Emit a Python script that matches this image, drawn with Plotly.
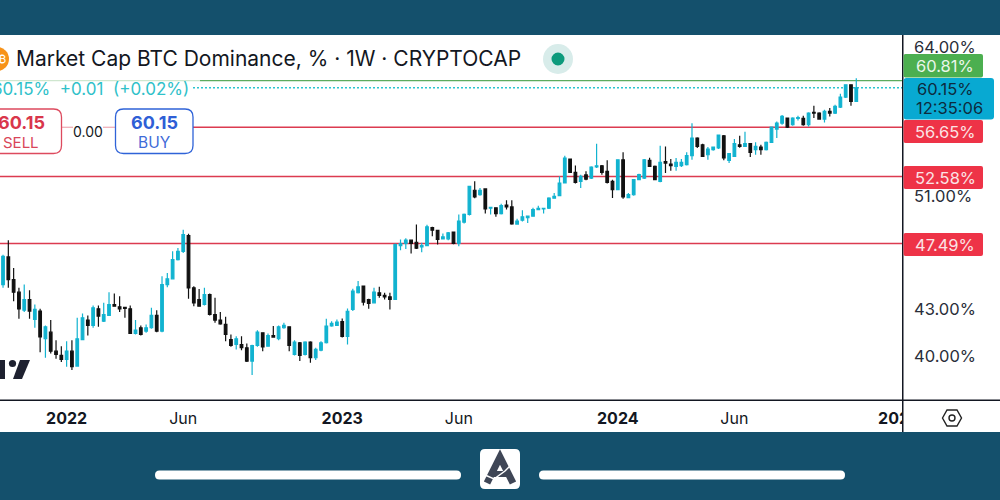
import math

import pandas as pd
import plotly.graph_objects as go

# weekly candles, first one is the week of 4 Oct 2021
opens = [43.62, 44.62, 46.53, 44.96, 44.11, 42.92, 43.62, 42.32, 42.86, 41.10, 41.51, 40.33, 40.07, 39.83, 40.33, 39.43, 41.05,
         42.28, 41.94, 43.01, 42.21, 42.58, 43.29, 43.14, 43.10, 43.01, 41.43, 41.79, 41.58, 41.79, 42.58, 41.58, 44.62, 45.01,
         46.34, 46.93, 48.06, 44.40, 43.62, 43.29, 43.95, 42.64, 42.28, 42.00, 41.05, 40.74, 40.74, 40.54, 39.73, 40.68, 41.47,
         40.64, 41.30, 41.10, 41.79, 41.85, 40.13, 40.85, 40.13, 40.89, 39.93, 40.39, 40.85, 41.90, 41.94, 42.19, 41.24,
         42.97, 44.07, 44.52, 43.62, 43.40, 44.07, 43.89, 43.80, 43.62, 47.34, 47.49, 47.73, 47.58, 47.25, 47.34, 48.66, 48.44,
         47.83, 47.83, 48.32, 47.49, 49.06, 49.63, 51.49, 51.15, 51.59, 50.10, 50.13, 49.70, 50.35, 50.20, 48.91, 49.20, 49.40,
         49.50, 50.00, 50.05, 50.10, 50.87, 51.07, 52.06, 53.99, 52.91, 52.19, 52.70, 52.45, 53.34, 53.44, 52.99, 52.19, 51.54,
         53.93, 50.92, 51.14, 52.32, 52.45, 53.88, 53.39, 52.19, 53.77, 53.58, 53.39, 53.45, 53.53, 54.26, 55.73, 55.17, 54.34,
         54.76, 54.90, 55.93, 53.88, 54.21, 55.17, 55.03, 55.26, 54.76, 54.98, 54.76, 55.37, 56.50, 57.01, 57.45, 56.87, 57.42,
         57.42, 56.87, 57.95, 57.89, 57.36, 58.03, 57.89, 58.42, 59.31, 60.42, 58.92]
highs = [46.55, 46.69, 47.72, 45.76, 44.40, 44.62, 44.24, 43.29, 43.01, 41.94, 42.28, 41.01, 40.64, 40.95, 41.01, 42.43, 42.71,
         42.58, 43.23, 43.23, 43.40, 44.11, 44.02, 43.84, 43.10, 43.23, 42.28, 41.94, 42.00, 43.08, 42.92, 45.19, 45.41, 46.93,
         47.17, 48.50, 48.20, 44.51, 44.33, 44.40, 44.02, 43.73, 42.80, 42.49, 41.37, 41.26, 41.26, 40.81, 40.72, 41.64, 41.51,
         41.43, 41.90, 41.94, 42.11, 41.88, 41.01, 40.89, 40.95, 40.95, 40.54, 40.95, 42.36, 42.21, 42.32, 42.38, 43.03,
         44.34, 44.86, 44.56, 43.67, 44.41, 44.47, 44.07, 44.07, 47.49, 47.78, 47.88, 47.78, 48.88, 47.54, 48.86, 48.71, 48.46,
         48.22, 48.32, 48.36, 49.63, 49.70, 51.85, 52.19, 51.67, 51.64, 50.20, 50.13, 50.45, 50.71, 50.71, 49.30, 49.95, 49.52,
         50.13, 50.30, 50.12, 50.95, 51.28, 52.59, 54.26, 54.02, 53.45, 52.72, 52.99, 53.39, 55.25, 53.50, 53.88, 52.32, 53.96,
         54.54, 51.28, 52.37, 52.80, 53.99, 54.10, 53.45, 55.09, 55.03, 53.99, 54.07, 53.99, 54.54, 57.01, 55.81, 55.26, 54.98,
         55.03, 56.04, 55.99, 54.48, 55.65, 55.93, 56.27, 55.31, 55.37, 55.17, 55.45, 56.73, 57.16, 57.71, 57.48, 57.53, 57.65,
         57.65, 57.95, 58.53, 57.95, 58.18, 58.33, 58.62, 59.61, 60.45, 60.45, 61.04]
lows = [41.49, 44.40, 44.40, 43.51, 42.36, 42.80, 42.36, 41.79, 40.27, 39.93, 40.19, 39.87, 39.67, 39.39, 39.19, 39.39, 41.01,
        41.30, 41.79, 41.85, 42.15, 42.54, 43.14, 42.80, 42.43, 41.43, 41.37, 41.30, 41.47, 41.73, 41.51, 41.51, 44.44, 44.96,
        46.29, 46.81, 43.67, 43.18, 43.14, 43.23, 42.58, 42.11, 41.98, 40.95, 40.60, 40.44, 40.39, 39.67, 38.90, 40.60, 40.33,
        40.60, 41.16, 41.01, 41.73, 40.33, 40.07, 39.73, 40.07, 39.63, 39.79, 40.33, 40.81, 41.85, 41.90, 41.18, 40.74,
        42.86, 44.02, 43.23, 43.01, 43.36, 43.73, 43.62, 42.97, 43.58, 47.01, 47.10, 46.78, 47.10, 46.87, 47.29, 48.02, 47.41,
        47.78, 47.73, 47.44, 47.29, 48.96, 49.55, 50.87, 51.07, 49.70, 49.63, 49.45, 49.63, 50.00, 48.86, 48.86, 49.10, 49.00,
        49.45, 49.95, 49.70, 50.05, 50.82, 51.02, 52.01, 52.86, 52.01, 51.67, 52.27, 52.37, 53.26, 52.72, 52.01, 50.89, 51.49,
        50.82, 50.87, 51.07, 52.27, 52.37, 53.34, 52.27, 52.11, 52.85, 53.04, 53.04, 53.34, 53.45, 53.93, 54.90, 54.15, 53.93,
        54.67, 54.81, 53.88, 53.66, 54.15, 54.92, 54.98, 54.15, 54.34, 54.34, 54.70, 55.31, 55.73, 56.87, 56.59, 56.79, 57.24,
        56.79, 56.73, 57.45, 57.30, 57.07, 57.59, 57.80, 58.33, 59.22, 58.53, 58.86]
closes = [46.46, 46.58, 44.96, 44.11, 43.01, 43.62, 42.86, 42.97, 41.22, 41.85, 40.33, 40.13, 39.83, 40.33, 39.39, 41.10, 42.43,
          41.94, 43.08, 42.54, 42.64, 43.29, 43.18, 43.01, 43.03, 41.43, 41.64, 41.37, 41.79, 42.58, 41.58, 44.62, 45.01, 46.34,
          46.93, 48.13, 44.40, 43.40, 43.18, 43.95, 42.64, 42.28, 42.04, 41.37, 40.68, 41.10, 40.54, 39.73, 40.68, 41.51, 40.60,
          41.30, 41.20, 41.85, 41.94, 40.68, 40.89, 40.07, 40.89, 39.93, 40.44, 40.85, 41.90, 42.07, 42.15, 41.24, 42.84,
          44.18, 44.47, 43.45, 43.36, 44.11, 43.89, 43.80, 43.62, 47.41, 47.49, 47.73, 47.49, 47.15, 47.34, 48.71, 48.46, 47.78,
          47.97, 48.27, 47.49, 49.13, 49.63, 51.80, 50.97, 51.49, 50.05, 50.17, 49.70, 50.30, 50.20, 48.93, 49.13, 49.45, 49.50,
          50.00, 50.10, 50.10, 50.87, 51.02, 52.06, 54.07, 52.91, 52.11, 52.59, 52.37, 53.34, 53.44, 52.91, 52.11, 51.54, 53.93,
          50.97, 51.15, 52.32, 52.72, 53.92, 53.39, 52.32, 53.72, 53.66, 53.45, 53.72, 53.72, 54.26, 55.73, 55.03, 54.21, 54.81,
          54.98, 55.99, 54.07, 54.43, 55.26, 55.03, 55.26, 54.54, 55.03, 54.76, 55.37, 56.67, 57.01, 57.59, 56.67, 57.45, 57.50,
          56.87, 57.89, 57.89, 57.36, 58.03, 57.89, 58.48, 59.31, 60.42, 58.92, 60.15]

price_ticks = [64, 51, 47, 43, 40]
price_labels = ["64.00%", "51.00%", "47.00%", "43.00%", "40.00%"]
date_ticks = ["2022-01-03", "2022-06-06", "2023-01-02", "2023-06-05", "2024-01-01", "2024-06-03", "2025-01-06"]
date_labels = ["<b>2022</b>", "Jun", "<b>2023</b>", "Jun", "<b>2024</b>", "Jun", "<b>2025</b>"]

red_levels = [56.65, 52.58, 47.49]
green_level = 60.81
last_price = 60.15

FONT = "Inter"
TEAL = "#14506c"
RED = "#dc3b50"
CYAN = "#12b3d0"
TAG_RED = "#ee3347"

dates = pd.date_range("2021-10-04", periods=len(closes), freq="7D")

fig = go.Figure()

fig.add_trace(go.Candlestick(
    x=dates, open=opens, high=highs, low=lows, close=closes,
    increasing=dict(line=dict(color=CYAN, width=1.2), fillcolor=CYAN),
    decreasing=dict(line=dict(color="#111111", width=1.2), fillcolor="#111111"),
    whiskerwidth=0, showlegend=False, hoverinfo="skip",
))


# pixel position in the 1000x500 picture -> paper fraction
def px(x):
    return x / 903


def py(y):
    return (400 - y) / 365


def rrect(x0, y0, x1, y1, r):
    return (f"M {px(x0 + r)} {py(y0)} L {px(x1 - r)} {py(y0)} Q {px(x1)} {py(y0)} {px(x1)} {py(y0 + r)} "
            f"L {px(x1)} {py(y1 - r)} Q {px(x1)} {py(y1)} {px(x1 - r)} {py(y1)} "
            f"L {px(x0 + r)} {py(y1)} Q {px(x0)} {py(y1)} {px(x0)} {py(y1 - r)} "
            f"L {px(x0)} {py(y0 + r)} Q {px(x0)} {py(y0)} {px(x0 + r)} {py(y0)} Z")


def poly(points, close=True):
    d = " L ".join(f"{px(x)} {py(y)}" for x, y in points)
    return "M " + d + (" Z" if close else "")


def box(x0, y0, x1, y1, fill, layer="below"):
    fig.add_shape(type="rect", xref="paper", yref="paper", x0=px(x0), x1=px(x1), y0=py(y1), y1=py(y0),
                  fillcolor=fill, line_width=0, layer=layer)


def disc(cx, cy, r, fill, layer="below"):
    fig.add_shape(type="circle", xref="paper", yref="paper", x0=px(cx - r), x1=px(cx + r), y0=py(cy + r), y1=py(cy - r),
                  fillcolor=fill, line_width=0, layer=layer)


def path(d, fill=None, line=None, width=0, layer="above"):
    fig.add_shape(type="path", xref="paper", yref="paper", path=d, fillcolor=fill,
                  line=dict(color=line, width=width), layer=layer)


def level(value, x0, x1, color, width=1.4, dash="solid"):
    fig.add_shape(type="line", xref="paper", yref="y", x0=px(x0), x1=px(x1), y0=value, y1=value,
                  line=dict(color=color, width=width, dash=dash), layer="below")


def label(x, y, text, size=15, color="#131722", anchor="center"):
    fig.add_annotation(xref="paper", yref="paper", x=px(x), y=py(y), text=text, showarrow=False,
                       xanchor=anchor, yanchor="middle", font=dict(family=FONT, size=size, color=color))


# white chart panel on the teal page
box(0, 35, 1000, 432, "white")

# watermark, cut off by the left edge
box(0, 360, 5, 379, "#1e2130")
disc(12.5, 363.5, 3.6, "#1e2130")
path(poly([(20, 360), (30, 360), (22, 379), (13, 379)]), fill="#1e2130", layer="below")

# price levels
level(green_level, 0, 200, "#cfe6cf")
level(green_level, 200, 903, "#5dab5f")
level(last_price, 193, 903, "#2cc4d0", width=1.5, dash="2px,2px")
level(red_levels[0], 62, 73, "#f0b4bc")
level(red_levels[0], 103, 115, "#f0b4bc")
level(red_levels[0], 193, 903, RED)
level(red_levels[1], 0, 903, RED)
level(red_levels[2], 0, 903, RED)

# cover the end of the clipped 2025 label, then the axis frame
box(903, 400, 1000, 432, "white", layer="above")
box(902, 35, 903.5, 432, "#131722", layer="above")
box(0, 399.5, 1000, 401, "#131722", layer="above")

# settings icon
path(poly([(942.5, 418), (947, 410), (957, 410), (961.5, 418), (957, 426), (947, 426)]), line="#222222", width=1.4)
fig.add_shape(type="circle", xref="paper", yref="paper", x0=px(949), x1=px(955), y0=py(421), y1=py(415),
              line=dict(color="#222222", width=1.4), layer="above")

# title row
disc(-3, 59, 12, "#f7931a", layer="above")
label(2, 59, "₿", size=11, color="white")
label(14, 59, "Market Cap BTC Dominance, % · 1W · CRYPTOCAP", size=21, anchor="left")
disc(558, 59, 15, "#d8ecea", layer="above")
disc(558, 59, 6.5, "#0d9a7c", layer="above")
label(191, 89, "60.15%&nbsp;&nbsp;+0.01&nbsp;&nbsp;(+0.02%)", size=17, color="#2fc1c9", anchor="right")

# sell / buy buttons
path(rrect(-20, 109, 61.5, 153.5, 8), fill="white", line="#dd4a5e", width=1.3)
path(rrect(115.5, 109, 193, 153.5, 8), fill="white", line="#2f63d8", width=1.3)
label(21, 122, "<b>60.15</b>", size=18, color="#d9364b")
label(21, 142, "SELL", size=15, color="#d9465a")
label(88, 131, "0.00", size=14)
label(154, 122, "<b>60.15</b>", size=18, color="#2f5fd6")
label(154, 142, "BUY", size=15.5, color="#3f6bd8")

# price tags on the axis
path(rrect(903.5, 54, 983, 77.5, 2), fill="#4caf50")
label(945, 65.5, "60.81%", size=16.5, color="#eaf6ea")
path(rrect(903.5, 78, 994, 119.5, 3), fill="#08a9d2")
label(945, 89, "60.15%", size=16.5, color="#0d2b3e")
label(950, 108, "12:35:06", size=16.5, color="#0d2b3e")
for top, text in [(120, "56.65%"), (166, "52.58%"), (233, "47.49%")]:
    path(rrect(903.5, top, 983, top + 23, 2), fill=TAG_RED)
    label(945, top + 11.5, text, size=16.5, color="#fbe3e5")

# bottom bar
path(rrect(155, 470.5, 461, 479.5, 4.5), fill="white")
path(rrect(539, 470.5, 845, 479.5, 4.5), fill="white")
path(rrect(480, 449, 520, 489, 5), fill="white")
path(poly([(487, 483), (500, 457), (513, 483)], close=False), line="#3f4656", width=7)
path(poly([(493, 474), (507, 474)], close=False), line="#3f4656", width=6)
path(poly([(485, 475), (494, 479), (505, 471), (514, 462)], close=False), line="white", width=1.5)

fig.update_layout(
    width=1000, height=500,
    margin=dict(l=0, r=97, t=35, b=100),
    paper_bgcolor=TEAL, plot_bgcolor="white",
    showlegend=False, dragmode=False,
    font=dict(family=FONT, color="#131722", size=15),
)
fig.update_xaxes(
    type="date", range=["2021-10-07", "2025-01-11 17:00"],
    rangeslider_visible=False, showgrid=False, zeroline=False, showline=False,
    tickmode="array", tickvals=date_ticks, ticktext=date_labels, ticks="", ticklabelstandoff=7,
    tickfont=dict(size=16, color="#131722"), tickangle=0,
)
fig.update_yaxes(
    type="log", side="right", range=[math.log10(37.45), math.log10(65.17)],
    showgrid=False, zeroline=False, showline=False,
    tickmode="array", tickvals=price_ticks, ticktext=price_labels, ticks="", ticklabelstandoff=10,
    tickfont=dict(size=16.5, color="#2a2e39"),
)

fig.write_html("out.html", config=dict(displayModeBar=False), post_script="document.body.style.margin = '0';")
